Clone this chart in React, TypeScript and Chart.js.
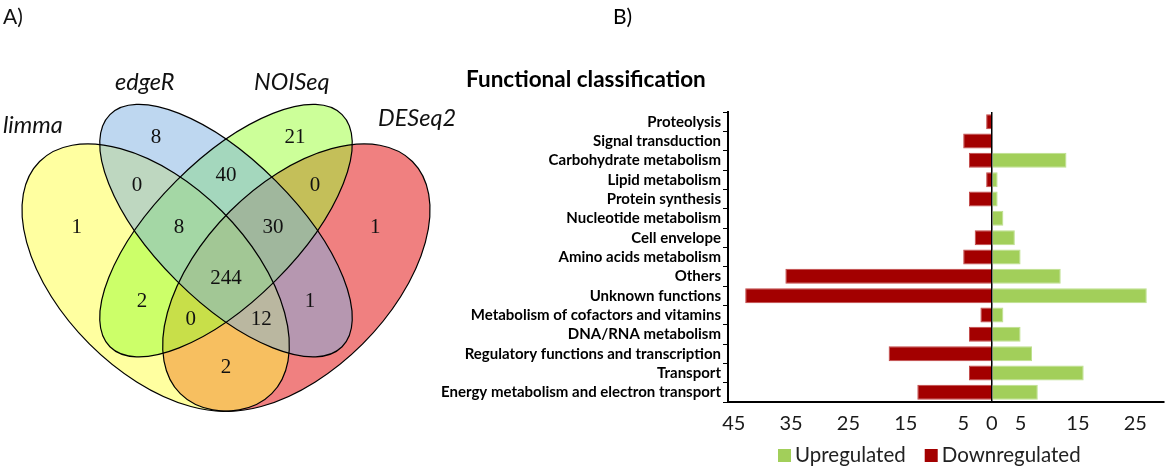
import React, { useEffect, useRef } from "react";
import { Chart, registerables } from "chart.js";
Chart.register(...registerables);

// ---------- Panel B data ----------
const categories = [
  "Proteolysis",
  "Signal transduction",
  "Carbohydrate metabolism",
  "Lipid metabolism",
  "Protein synthesis",
  "Nucleotide metabolism",
  "Cell envelope",
  "Amino acids metabolism",
  "Others",
  "Unknown functions",
  "Metabolism of cofactors and vitamins",
  "DNA/RNA metabolism",
  "Regulatory functions and transcription",
  "Transport",
  "Energy metabolism and electron transport",
];
const upregulated = [0, 0, 13, 1, 1, 2, 4, 5, 12, 27, 2, 5, 7, 16, 8];
const downregulated = [1, 5, 4, 1, 4, 0, 3, 5, 36, 43, 2, 4, 18, 4, 13];
const xTickValues = [-45, -35, -25, -15, -5, 0, 5, 15, 25];
const seriesLabels = ["Upregulated", "Downregulated"];
const chartTitle = "Functional classification";

// ---------- Panel A data ----------
const vennSetNames = ["limma", "edgeR", "NOISeq", "DESeq2"];
// regions: limma, edgeR, NOISeq, DESeq2, L&E, E&N, N&D, L&E&N, E&N&D, all, L&N, E&D, L&N&D, L&E&D, L&D
const vennRegionCounts = [1, 8, 21, 1, 0, 40, 0, 8, 30, 244, 2, 1, 0, 12, 2];

// ---------- layout / style (not data) ----------
const VENN_W = 460;
const H = 469;
const VENN_SCALE = { xMin: 0.01812, xMax: 0.99893, yMin: 0.06183, yMax: 1.06183 };
const VENN_ELLIPSES = [
  { cx: 0.35, cy: 0.47, a: 0.35, b: 0.2, rot: Math.PI / 4 },
  { cx: 0.5, cy: 0.57, a: 0.35, b: 0.15, rot: Math.PI / 4 },
  { cx: 0.5, cy: 0.57, a: 0.35, b: 0.15, rot: -Math.PI / 4 },
  { cx: 0.65, cy: 0.47, a: 0.35, b: 0.2, rot: -Math.PI / 4 },
];
const VENN_FILLS = ["rgb(255,255,65)", "rgb(125,175,225)", "rgb(153,255,51)", "rgb(225,1,1)"];
const VENN_DRAW_ORDER = [3, 0, 2, 1];
const VENN_LABEL_POS = [
  [0.182, 0.576],
  [0.351, 0.768],
  [0.647, 0.768],
  [0.818, 0.576],
  [0.31, 0.667],
  [0.5, 0.687],
  [0.69, 0.667],
  [0.4, 0.576],
  [0.6, 0.576],
  [0.5, 0.469],
  [0.321, 0.418],
  [0.679, 0.418],
  [0.425, 0.38],
  [0.575, 0.38],
  [0.5, 0.279],
];
const VENN_NAME_POS = [
  [0.0245, 0.7783],
  [0.2633, 0.8699],
  [0.5597, 0.8699],
  [0.8241, 0.7932],
];

const BAR_LEFT = 420;
const BAR_W = 1169 - BAR_LEFT;
const UP_COLOR = "#A2CF5A";
const UP_BORDER = "#BDE08E";
const DOWN_COLOR = "#A30000";
const DOWN_BORDER = "#C24848";

const vennPlugin = {
  id: "vennDraw",
  beforeDatasetsDraw(chart: any) {
    const { ctx, scales } = chart;
    const xs = scales.x, ys = scales.y;
    const unit = xs.getPixelForValue(1) - xs.getPixelForValue(0);
    const path = (e: any) => {
      ctx.beginPath();
      ctx.ellipse(xs.getPixelForValue(e.cx), ys.getPixelForValue(e.cy), e.a * unit, e.b * unit, e.rot, 0, Math.PI * 2);
    };
    ctx.save();
    ctx.globalAlpha = 0.5;
    VENN_DRAW_ORDER.forEach((i) => {
      path(VENN_ELLIPSES[i]);
      ctx.fillStyle = VENN_FILLS[i];
      ctx.fill();
    });
    ctx.globalAlpha = 1;
    ctx.strokeStyle = "#000";
    ctx.lineWidth = 1.2;
    VENN_ELLIPSES.forEach((e) => {
      path(e);
      ctx.stroke();
    });
    ctx.restore();
  },
  afterDatasetsDraw(chart: any) {
    const { ctx, scales } = chart;
    const xs = scales.x, ys = scales.y;
    ctx.save();
    ctx.fillStyle = "#111";
    ctx.font = '21px "Liberation Serif"';
    ctx.textAlign = "center";
    ctx.textBaseline = "middle";
    const pts = chart.data.datasets[0].data;
    pts.forEach((p: any) => {
      ctx.fillText(String(p.count), xs.getPixelForValue(p.x), ys.getPixelForValue(p.y));
    });
    ctx.textAlign = "left";
    ctx.textBaseline = "alphabetic";
    ctx.font = "italic 23.5px Lato";
    vennSetNames.forEach((n, i) => {
      ctx.fillText(n, xs.getPixelForValue(VENN_NAME_POS[i][0]), ys.getPixelForValue(VENN_NAME_POS[i][1]));
    });
    ctx.font = "21px Lato";
    ctx.fillText("A)", 3, 24);
    ctx.restore();
  },
};

const barDecor = {
  id: "barDecor",
  afterDraw(chart: any) {
    const { ctx } = chart;
    ctx.save();
    ctx.fillStyle = "#000";
    ctx.textBaseline = "alphabetic";
    ctx.textAlign = "left";
    ctx.font = "bold 22.5px Lato";
    ctx.fillText(chartTitle, 46, 87);
    ctx.font = "21px Lato";
    ctx.fillText("B)", 193, 24);
    // legend
    ctx.font = "20.5px Lato";
    let x = 358;
    chart.data.datasets.forEach((d: any) => {
      ctx.fillStyle = d.backgroundColor;
      ctx.fillRect(x, 449, 13, 13);
      x += 17;
      ctx.fillStyle = "#222";
      ctx.fillText(d.label, x, 462);
      x += ctx.measureText(d.label).width + 19;
    });
    ctx.restore();
  },
};

export default function App() {
  const vennRef = useRef<HTMLCanvasElement>(null);
  const barRef = useRef<HTMLCanvasElement>(null);

  useEffect(() => {
    const venn = new Chart(vennRef.current!, {
      type: "scatter",
      data: {
        datasets: [
          {
            data: vennRegionCounts.map((c, i) => ({ x: VENN_LABEL_POS[i][0], y: VENN_LABEL_POS[i][1], count: c })) as any,
            pointRadius: 0,
          },
        ],
      },
      options: {
        responsive: false,
        animation: false,
        layout: { padding: 0 },
        plugins: { legend: { display: false }, tooltip: { enabled: false } },
        scales: {
          x: { type: "linear", min: VENN_SCALE.xMin, max: VENN_SCALE.xMax, display: false },
          y: { type: "linear", min: VENN_SCALE.yMin, max: VENN_SCALE.yMax, display: false },
        },
      },
      plugins: [vennPlugin],
    });

    const bar = new Chart(barRef.current!, {
      type: "bar",
      data: {
        labels: categories,
        datasets: [
          {
            label: seriesLabels[0],
            data: upregulated,
            backgroundColor: UP_COLOR,
            borderColor: UP_BORDER,
            borderWidth: 1,
            barPercentage: 0.78,
            categoryPercentage: 1,
          },
          {
            label: seriesLabels[1],
            data: downregulated.map((v) => -v),
            backgroundColor: DOWN_COLOR,
            borderColor: DOWN_BORDER,
            borderWidth: 1,
            barPercentage: 0.78,
            categoryPercentage: 1,
          },
        ],
      },
      options: {
        indexAxis: "y",
        responsive: false,
        animation: false,
        layout: { padding: { top: 112, right: 5, bottom: 37, left: 0 } },
        plugins: { legend: { display: false }, tooltip: { enabled: false }, title: { display: false } },
        scales: {
          x: {
            type: "linear",
            stacked: true,
            min: -46,
            max: 30,
            afterBuildTicks: (scale: any) => {
              scale.ticks = xTickValues.map((v) => ({ value: v }));
            },
            afterFit: (scale: any) => {
              scale.height = 30;
            },
            border: { display: true, color: "#000", width: 2 },
            grid: {
              drawTicks: false,
              color: (c: any) => (c.tick && c.tick.value === 0 ? "#000" : "rgba(0,0,0,0)"),
              lineWidth: 1.5,
            },
            ticks: {
              autoSkip: false,
              maxRotation: 0,
              padding: 10,
              color: "#1a1a1a",
              font: { family: "Lato", size: 20 },
              callback: (v: any) => String(Math.abs(Number(v))),
            },
          },
          y: {
            type: "category",
            stacked: true,
            afterFit: (scale: any) => {
              scale.width = 308;
            },
            border: { display: true, color: "#000", width: 2 },
            grid: { drawOnChartArea: false, drawTicks: true, tickLength: 5, color: "#000", offset: true },
            ticks: {
              autoSkip: false,
              padding: 2,
              color: "#000",
              font: { family: "Lato", size: 15, weight: "bold" },
            },
          },
        },
      },
      plugins: [barDecor],
    });

    return () => {
      venn.destroy();
      bar.destroy();
    };
  }, []);

  return (
    <div style={{ position: "fixed", left: 0, top: 0, width: 1169, height: H, background: "#fff" }}>
      <canvas ref={vennRef} width={VENN_W} height={H} style={{ position: "absolute", left: 0, top: 0 }} />
      <canvas ref={barRef} width={BAR_W} height={H} style={{ position: "absolute", left: BAR_LEFT, top: 0 }} />
    </div>
  );
}
